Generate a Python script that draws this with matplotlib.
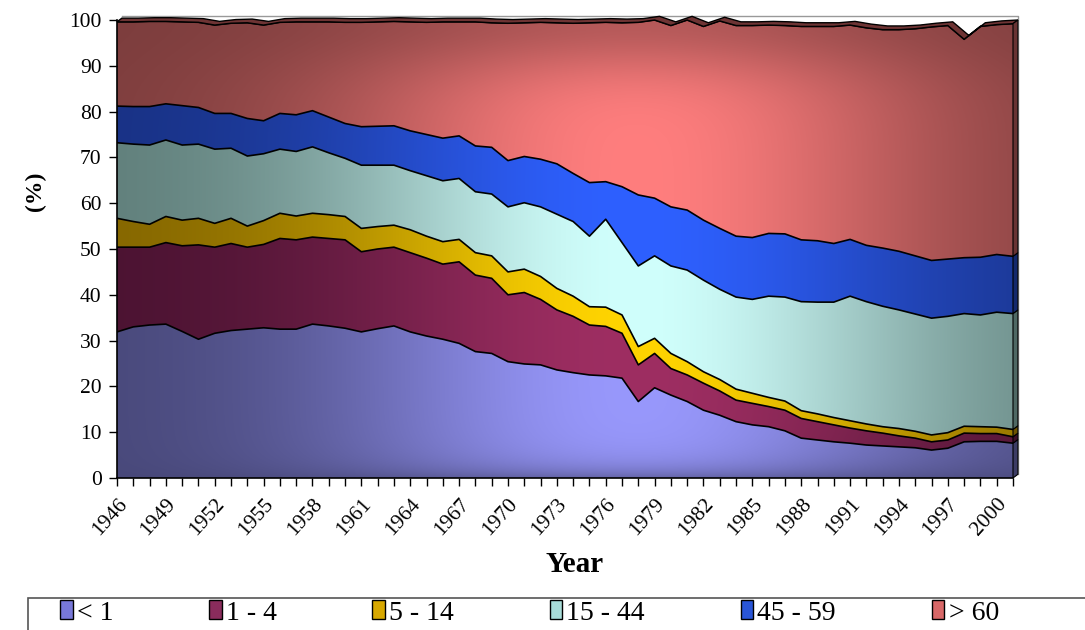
import numpy as np
import matplotlib
matplotlib.use("Agg")
import matplotlib.pyplot as plt
from matplotlib.patches import PathPatch, Patch, Rectangle, Polygon

plt.rcParams['font.family'] = ['Liberation Serif', 'DejaVu Serif']

years = np.arange(1946, 2002)

# share of each age group, % per year
under_1 = [31.9, 33.0, 33.4, 33.6, 32.0, 30.3, 31.6, 32.2, 32.5, 32.8,
           32.5, 32.5, 33.6, 33.2, 32.7, 31.9, 32.6, 33.2, 31.9, 31.0,
           30.3, 29.4, 27.6, 27.2, 25.4, 24.9, 24.7, 23.6, 23.0, 22.5,
           22.3, 21.8, 16.7, 19.7, 18.1, 16.7, 14.8, 13.7, 12.3, 11.6,
           11.2, 10.3, 8.7, 8.3, 7.9, 7.6, 7.2, 7.0, 6.8, 6.6,
           6.1, 6.5, 7.9, 8.0, 8.0, 7.6]
age_1_4 = [18.5, 17.4, 17.0, 17.8, 18.7, 20.6, 18.8, 19.0, 17.9, 18.2,
           19.8, 19.5, 19.0, 19.1, 19.3, 17.5, 17.4, 17.2, 17.3, 17.0,
           16.4, 17.8, 16.7, 16.4, 14.6, 15.6, 14.3, 13.1, 12.3, 10.9,
           10.8, 9.8, 8.0, 7.5, 5.8, 5.8, 5.9, 5.3, 4.7, 4.7,
           4.4, 4.5, 4.3, 4.0, 3.7, 3.3, 3.1, 2.8, 2.4, 2.1,
           1.8, 1.8, 1.9, 1.7, 1.7, 1.4]
age_5_14 = [6.3, 5.6, 5.0, 5.7, 5.6, 5.8, 5.2, 5.5, 4.6, 5.2,
            5.5, 5.2, 5.2, 5.2, 5.1, 5.1, 4.9, 4.8, 5.0, 4.8,
            4.9, 4.9, 4.9, 4.9, 5.0, 5.1, 5.0, 4.7, 4.4, 4.0,
            4.2, 4.0, 4.0, 3.3, 3.3, 2.9, 2.5, 2.5, 2.4, 2.2,
            2.0, 2.0, 1.7, 1.7, 1.6, 1.6, 1.5, 1.4, 1.6, 1.5,
            1.5, 1.6, 1.5, 1.5, 1.4, 1.6]
age_15_44 = [16.5, 16.9, 17.3, 16.7, 16.4, 16.2, 16.2, 15.3, 15.3, 14.6,
             14.0, 14.1, 14.5, 13.5, 12.7, 13.8, 13.4, 13.1, 12.9, 13.2,
             13.3, 13.3, 13.3, 13.5, 14.2, 14.5, 15.2, 16.2, 16.3, 15.4,
             19.2, 15.8, 17.6, 18.0, 19.1, 20.0, 20.0, 19.7, 20.1, 20.5,
             22.1, 22.7, 23.8, 24.4, 25.2, 27.2, 26.7, 26.3, 25.9, 25.6,
             25.5, 25.4, 24.6, 24.4, 25.1, 25.3]
age_45_59 = [8.0, 8.2, 8.4, 7.9, 8.6, 8.0, 7.8, 7.6, 8.2, 7.2,
             7.8, 8.0, 7.9, 7.8, 7.6, 8.4, 8.5, 8.6, 8.7, 9.0,
             9.3, 9.3, 10.0, 10.2, 10.1, 10.1, 10.4, 11.0, 10.5, 11.7,
             8.2, 12.2, 15.5, 12.6, 12.9, 13.1, 13.1, 13.3, 13.3, 13.5,
             13.7, 13.8, 13.5, 13.4, 12.8, 12.4, 12.3, 12.7, 12.8, 12.7,
             12.6, 12.5, 12.2, 12.6, 12.6, 12.5]
over_60 = [18.4, 18.5, 18.6, 18.0, 18.3, 18.6, 19.3, 19.7, 20.9, 20.9,
           19.9, 20.3, 19.4, 20.8, 22.1, 22.8, 22.8, 22.8, 23.8, 24.5,
           25.4, 24.9, 27.1, 27.2, 30.0, 29.2, 29.9, 30.8, 32.8, 34.9,
           34.8, 35.8, 37.7, 38.9, 39.6, 41.5, 42.3, 45.3, 46.0, 46.3,
           45.5, 45.5, 46.6, 46.8, 47.4, 46.8, 47.5, 47.7, 48.4, 49.6,
           51.0, 51.0, 47.7, 50.4, 50.2, 50.8]

labels = ['< 1', '1 - 4', '5 - 14', '15 - 44', '45 - 59', '> 60']
series = [under_1, age_1_4, age_5_14, age_15_44, age_45_59, over_60]

# (dark edge colour, lit centre colour) for each band
shades = [((70, 70, 118), (152, 152, 252)),
          ((72, 18, 48), (158, 46, 98)),
          ((128, 98, 0), (255, 212, 0)),
          ((92, 122, 118), (208, 255, 252)),
          ((24, 48, 128), (46, 96, 255)),
          ((122, 60, 60), (255, 126, 126))]
legend_cols = ['#7878d8', '#8a2c5c', '#d8a800', '#a8dcd8', '#2a56d8', '#d86868']

fig = plt.figure(figsize=(10.85, 6.3), dpi=100)
ax = fig.add_axes([117 / 1085, 1 - 478 / 630, 896 / 1085, 458 / 630])
ax.set_xlim(years[0], years[-1])
ax.set_ylim(0, 100)

# lighting field: bright band in the middle, dark at the ends
nx, ny = 600, 300
u = np.linspace(0, 1, nx)
v = np.linspace(0, 1, ny)
U, V = np.meshgrid(u, v)
light = np.exp(-((U - 0.58) / 0.34) ** 2)
light *= 1 - 0.6 * np.exp(-V / 0.03)
light *= 1 - 0.55 * np.exp(-((1 - V) / 0.12) ** 2)

cum = np.vstack([np.zeros(len(years)), np.cumsum(np.array(series), axis=0)])
for i, (dark, lit) in enumerate(shades):
    lo, hi = cum[i], cum[i + 1]
    dark = np.array(dark) / 255
    lit = np.array(lit) / 255
    rgb = dark + (lit - dark) * light[..., None]
    poly = ax.fill_between(years, lo, hi, facecolor='none', edgecolor='none')
    clip = PathPatch(poly.get_paths()[0], transform=ax.transData)
    im = ax.imshow(rgb, extent=(years[0], years[-1], 0, 100), origin='lower',
                   aspect='auto', interpolation='bilinear', zorder=1)
    im.set_clip_path(clip)
    ax.plot(years, hi, color='black', lw=1.2, zorder=3)

# 3D depth: top face and right side face
dx, dy = 0.3, 0.8
total = cum[-1]
top = np.concatenate([np.column_stack([years, total]),
                      np.column_stack([years[::-1] + dx, total[::-1] + dy])])
ax.add_patch(Polygon(top, closed=True, facecolor='#6e3434', edgecolor='black',
                     lw=1.0, zorder=4, clip_on=False))
for i, (dark, lit) in enumerate(shades):
    lo, hi = cum[i][-1], cum[i + 1][-1]
    side = [(years[-1], lo), (years[-1] + dx, lo + dy),
            (years[-1] + dx, hi + dy), (years[-1], hi)]
    ax.add_patch(Polygon(side, closed=True, facecolor=np.array(dark) / 255 * 0.85,
                         edgecolor='black', lw=0.8, zorder=4, clip_on=False))
ax.plot([years[0] + dx, years[-1] + dx, years[-1] + dx],
        [100 + dy, 100 + dy, dy], color='#999999', lw=1.0, clip_on=False, zorder=0)

for side in ['top', 'right']:
    ax.spines[side].set_visible(False)
ax.spines['left'].set_linewidth(1.2)
ax.spines['bottom'].set_linewidth(1.2)
ax.spines['left'].set_zorder(5)

ax.set_yticks(np.arange(0, 101, 10))
ax.tick_params(axis='y', direction='out', length=6, width=1, labelsize=15.5, pad=5)
ax.set_xticks(years)
ax.set_xticklabels([str(y) if (y - 1946) % 3 == 0 else '' for y in years],
                   rotation=48, ha='right', va='top', rotation_mode='anchor')
ax.tick_params(axis='x', direction='out', length=6, width=1, labelsize=15.5, pad=6)

fig.text(35 / 1085, 1 - 191 / 630, '(%)', rotation=90, ha='center', va='center',
         fontsize=17, fontweight='bold')
fig.text(575 / 1085, 1 - 564 / 630, 'Year', ha='center', va='center',
         fontsize=21, fontweight='bold')

# legend strip along the bottom edge
fig.add_artist(Rectangle((28 / 1085, -0.1), 1.2, 0.1 + 32 / 630,
                         transform=fig.transFigure, fill=False,
                         edgecolor='#555555', lw=1.2))
handles = [Patch(facecolor=c, edgecolor='black', lw=1.0) for c in legend_cols]
fig.legend(handles, labels, loc='center left', bbox_to_anchor=(49 / 1085, 1 - 613 / 630),
           ncol=6, frameon=False, fontsize=20, handlelength=0.45, handleheight=0.65,
           handletextpad=0.15, columnspacing=3.45, borderaxespad=0)

fig.savefig('out.png', dpi=100)
